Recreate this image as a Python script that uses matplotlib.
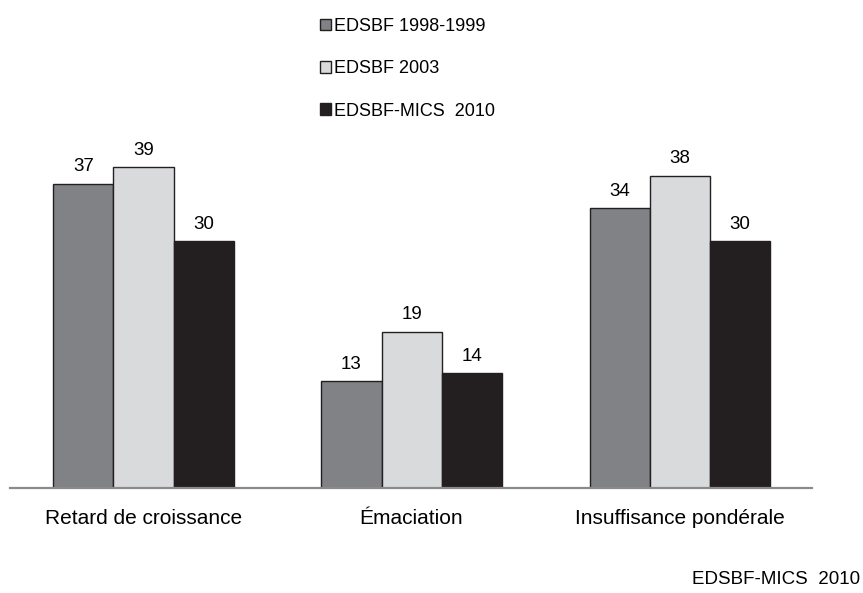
import numpy as np
import matplotlib.pyplot as plt
from matplotlib.patches import Patch

plt.rcParams['font.family'] = ['Liberation Sans', 'DejaVu Sans']

categories = ['Retard de croissance', 'Émaciation', 'Insuffisance pondérale']
series = ['EDSBF 1998-1999', 'EDSBF 2003', 'EDSBF-MICS  2010']
v_1998 = [37, 13, 34]
v_2003 = [39, 19, 38]
v_2010 = [30, 14, 30]

fills = ['#808285', '#d9dadc', '#231f20']
edges = ['#231f20', '#231f20', '#231f20']

fig = plt.figure(figsize=(8.63, 5.93), dpi=100)
ax = fig.add_axes([10 / 863, 105 / 593, 802 / 863, 370 / 593])

x = np.arange(len(categories))
w = 0.224
for i, vals in enumerate([v_1998, v_2003, v_2010]):
	bars = ax.bar(x + (i - 1) * w, vals, w, color=fills[i], edgecolor=edges[i], linewidth=1.0)
	ax.bar_label(bars, fontsize=13.5, padding=6)

ax.set_xlim(-0.498, 2.494)
ax.set_ylim(0, 45)
ax.set_yticks([])
ax.set_xticks(x)
ax.set_xticklabels(categories, fontsize=15)
ax.tick_params(axis='x', length=0, pad=15)
for s in ['top', 'left', 'right']:
	ax.spines[s].set_visible(False)
ax.spines['bottom'].set_color('#8a8a8a')
ax.spines['bottom'].set_linewidth(1.6)

handles = [Patch(facecolor=fills[i], edgecolor='#231f20', linewidth=1.0) for i in range(3)]
fig.legend(handles, series, loc='upper left', bbox_to_anchor=(320 / 863, 1 - 18 / 593),
	frameon=False, fontsize=13, handlelength=0.6, handleheight=0.6,
	handletextpad=0.2, labelspacing=1.4, borderpad=0, borderaxespad=0)

fig.text(860 / 863, 1 - 580 / 593, 'EDSBF-MICS  2010', ha='right', va='center', fontsize=13.5)

fig.savefig('out.png', dpi=100)
